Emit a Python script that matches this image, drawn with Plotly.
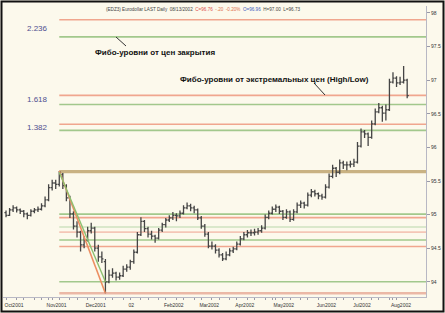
import numpy as np
import pandas as pd
import plotly.graph_objects as go

# ---------------- data ----------------
open_ = [95.03, 94.99, 95.07, 95.10, 95.07, 95.05, 95.01, 94.99, 95.05, 95.07,
         95.08, 95.13, 95.22, 95.40, 95.47, 95.45, 95.60, 95.43, 95.25, 95.01,
         94.83, 94.74, 94.55, 94.62, 94.76, 94.80, 94.50, 94.37, 94.30, 94.00,
         94.10, 94.13, 94.07, 94.09, 94.19, 94.22, 94.30, 94.44, 94.70, 94.90,
         94.79, 94.71, 94.68, 94.65, 94.77, 94.85, 94.92, 94.95, 94.99, 94.98,
         95.02, 95.10, 95.13, 95.10, 95.07, 94.95, 94.83, 94.71, 94.53, 94.53,
         94.47, 94.40, 94.34, 94.40, 94.46, 94.49, 94.56, 94.64, 94.70, 94.73,
         94.73, 94.74, 94.76, 94.80, 94.96, 95.02, 95.08, 95.11, 95.05, 94.96,
         95.04, 94.93, 95.04, 95.14, 95.17, 95.14, 95.29, 95.34, 95.31, 95.28,
         95.26, 95.41, 95.57, 95.69, 95.63, 95.77, 95.74, 95.74, 95.75, 95.78,
         96.02, 96.23, 96.20, 96.15, 96.35, 96.53, 96.59, 96.51, 96.56, 96.97,
         97.03, 96.96, 96.97, 97.00]
high = [95.06, 95.10, 95.14, 95.12, 95.09, 95.07, 95.03, 95.08, 95.10, 95.12,
        95.17, 95.27, 95.45, 95.52, 95.52, 95.65, 95.62, 95.45, 95.28, 95.05,
        94.90, 94.76, 94.68, 94.82, 94.88, 94.82, 94.55, 94.45, 94.34, 94.18,
        94.20, 94.15, 94.14, 94.24, 94.26, 94.33, 94.48, 94.74, 94.96, 94.92,
        94.82, 94.76, 94.70, 94.80, 94.88, 94.95, 94.99, 95.04, 95.02, 95.06,
        95.14, 95.18, 95.16, 95.13, 95.09, 94.98, 94.86, 94.74, 94.60, 94.56,
        94.50, 94.43, 94.45, 94.50, 94.52, 94.60, 94.68, 94.74, 94.77, 94.78,
        94.79, 94.80, 94.84, 95.00, 95.06, 95.12, 95.15, 95.13, 95.07, 95.08,
        95.06, 95.08, 95.18, 95.21, 95.19, 95.33, 95.38, 95.37, 95.33, 95.31,
        95.45, 95.61, 95.74, 95.71, 95.82, 95.80, 95.79, 95.80, 95.83, 96.08,
        96.28, 96.26, 96.22, 96.40, 96.58, 96.66, 96.62, 96.64, 97.02, 97.12,
        97.06, 97.05, 97.21, 97.02]
low = [94.96, 94.98, 95.04, 95.03, 95.01, 94.96, 94.93, 94.97, 95.02, 95.04,
       95.06, 95.11, 95.20, 95.36, 95.38, 95.42, 95.38, 95.20, 94.95, 94.78,
       94.66, 94.45, 94.50, 94.60, 94.72, 94.45, 94.30, 94.28, 93.83, 93.98,
       94.06, 94.02, 94.03, 94.07, 94.15, 94.18, 94.27, 94.42, 94.68, 94.74,
       94.66, 94.63, 94.58, 94.63, 94.74, 94.81, 94.89, 94.92, 94.90, 94.95,
       95.00, 95.08, 95.05, 95.02, 94.92, 94.79, 94.67, 94.50, 94.48, 94.42,
       94.36, 94.31, 94.32, 94.38, 94.43, 94.47, 94.54, 94.62, 94.66, 94.68,
       94.69, 94.70, 94.73, 94.78, 94.93, 95.00, 95.04, 95.01, 94.92, 94.94,
       94.89, 94.91, 95.02, 95.10, 95.09, 95.12, 95.26, 95.27, 95.23, 95.22,
       95.24, 95.39, 95.54, 95.56, 95.60, 95.68, 95.66, 95.70, 95.71, 95.76,
       96.00, 96.14, 96.02, 96.13, 96.33, 96.51, 96.38, 96.40, 96.54, 96.95,
       96.90, 96.93, 96.95, 96.73]
close = [94.99, 95.07, 95.10, 95.07, 95.05, 95.01, 94.99, 95.05, 95.07, 95.08,
         95.13, 95.22, 95.40, 95.47, 95.45, 95.63, 95.43, 95.25, 95.01, 94.83,
         94.74, 94.55, 94.62, 94.76, 94.80, 94.50, 94.37, 94.34, 94.00, 94.10,
         94.13, 94.07, 94.09, 94.19, 94.22, 94.30, 94.44, 94.70, 94.90, 94.79,
         94.71, 94.68, 94.65, 94.77, 94.85, 94.92, 94.95, 94.99, 94.98, 95.02,
         95.10, 95.13, 95.10, 95.07, 94.95, 94.83, 94.71, 94.53, 94.53, 94.47,
         94.40, 94.34, 94.40, 94.46, 94.49, 94.56, 94.64, 94.70, 94.73, 94.73,
         94.74, 94.76, 94.80, 94.96, 95.02, 95.08, 95.11, 95.05, 94.96, 95.04,
         94.93, 95.04, 95.14, 95.17, 95.14, 95.29, 95.34, 95.31, 95.28, 95.26,
         95.41, 95.57, 95.69, 95.63, 95.77, 95.74, 95.74, 95.75, 95.78, 96.02,
         96.23, 96.20, 96.15, 96.35, 96.53, 96.59, 96.51, 96.56, 96.97, 97.03,
         96.96, 96.97, 97.00, 96.77]

month_labels = ["Oct2001", "Nov2001", "Dec2001", "02", "Feb2002", "Mar2002",
                "Apr2002", "May2002", "Jun2002", "Jul2002", "Aug2002"]
fib_ratios = [0.0, 0.382, 0.5, 0.618, 1.0, 1.382, 1.618, 2.236]
labelled_ratios = [2.236, 1.618, 1.382]
y_ticks = [94, 94.5, 95, 95.5, 96, 96.5, 97, 97.5, 98]

title_parts = [("(EDZ3) Eurodollar LAST Daily  08/13/2002  ", "#444444"),
               ("C=96.76  ", "#E05050"),
               ("-.20  -0.20%  ", "#E07050"),
               ("O=96.96  ", "#4060C0"),
               ("H=97.00  L=96.73", "#444444")]
note_close = "Фибо-уровни от цен закрытия"
note_extreme = "Фибо-уровни от экстремальных цен (High/Low)"

# ---------------- derived ----------------
dates = pd.bdate_range("2001-10-01", periods=len(close), freq="2B")
xcat = list(dates.strftime("%Y-%m-%d"))
ser = pd.Series(xcat, index=dates)
month_first = list(ser.groupby([dates.year, dates.month]).first().values)
iso = dates.isocalendar()
week_first = list(ser.groupby([iso.year.values, iso.week.values]).first().values)
tick_set = sorted(set(month_first) | set(week_first))
label_of = dict(zip(month_first, month_labels))
tickvals = tick_set
ticktext = [label_of.get(v, "") for v in tick_set]

swing_window = 40
hi_arr = np.array(high[:swing_window]); lo_arr = np.array(low[:swing_window])
cl_arr = np.array(close[:swing_window])
peak_i = int(np.argmax(hi_arr)); low_i = int(np.argmin(lo_arr))
hi, lo = hi_arr.max(), lo_arr.min()
chi, clo = cl_arr.max(), cl_arr.min()
red_levels = {r: lo + r * (hi - lo) for r in fib_ratios}
green_levels = {r: clo + r * (chi - clo) for r in fib_ratios}

X_MAX = 118.3
BG = "#FCF9EC"
RED = "#F0A68E"
GREEN = "#A2C88C"

fig = go.Figure()

shapes = []
for r in fib_ratios:
    if r == 1.0:
        continue
    gcol = "#CFE2C0" if r == 0.5 else GREEN
    rcol = "#F4C6B6" if r == 0.5 else RED
    rw = 2.5 if r == 0.0 else 1.6
    shapes.append(dict(type="line", xref="x", yref="y", x0=peak_i, x1=X_MAX,
                       y0=green_levels[r], y1=green_levels[r],
                       line=dict(color=gcol, width=1.6), layer="below"))
    shapes.append(dict(type="line", xref="x", yref="y", x0=peak_i, x1=X_MAX,
                       y0=red_levels[r], y1=red_levels[r],
                       line=dict(color=rcol if r != 0.0 else "#EBB8A6", width=rw), layer="below"))
shapes.append(dict(type="line", xref="x", yref="y", x0=peak_i, x1=X_MAX,
                   y0=(red_levels[1.0] + green_levels[1.0]) / 2,
                   y1=(red_levels[1.0] + green_levels[1.0]) / 2,
                   line=dict(color="#C9B283", width=3.2), layer="below"))


def px(xp):
    return (xp - 3) / 423.0


def py(yp):
    return (297 - yp) / 291.0


shapes.append(dict(type="line", xref="paper", yref="paper", x0=px(116), y0=py(37),
                   x1=px(126), y1=py(46), line=dict(color="#333333", width=1)))
shapes.append(dict(type="line", xref="paper", yref="paper", x0=px(314), y0=py(83),
                   x1=px(325), y1=py(95), line=dict(color="#333333", width=1)))
shapes.append(dict(type="rect", xref="paper", yref="paper", x0=px(1.5), x1=px(443.5),
                   y0=py(311.5), y1=py(1.5), line=dict(color="#111111", width=2)))

fig.add_trace(go.Ohlc(x=xcat, open=open_, high=high, low=low, close=close,
                      increasing=dict(line=dict(color="#454545", width=1.3)),
                      decreasing=dict(line=dict(color="#454545", width=1.3)),
                      tickwidth=0.45, hoverinfo="skip"))

fig.add_trace(go.Scatter(x=[xcat[peak_i], xcat[low_i]], y=[hi, lo], mode="lines",
                         line=dict(color="#EC8F62", width=1.6), hoverinfo="skip"))
fig.add_trace(go.Scatter(x=[xcat[peak_i], xcat[low_i]], y=[chi, clo], mode="lines",
                         line=dict(color="#8CC070", width=1.4), hoverinfo="skip"))

annotations = []
title_html = "".join(f"<span style='color:{c}'>{t}</span>" for t, c in title_parts)
annotations.append(dict(xref="paper", yref="paper", x=px(104), y=py(10), xanchor="left",
                        yanchor="middle", text=title_html, showarrow=False,
                        font=dict(size=4.6, family="Liberation Sans, Arial")))
for r in labelled_ratios:
    annotations.append(dict(xref="paper", yref="y", x=px(50),
                            y=(red_levels[r] + green_levels[r]) / 2,
                            xanchor="right", yanchor="middle", text=f"{r:.3f}",
                            showarrow=False,
                            font=dict(size=8, color="#4F4F8F", family="Liberation Sans, Arial")))
annotations.append(dict(xref="paper", yref="paper", x=px(155), y=py(52), text=f"<b>{note_close}</b>",
                        showarrow=False, xanchor="center", yanchor="middle",
                        font=dict(size=8, color="#111111", family="Liberation Sans, Arial")))
annotations.append(dict(xref="paper", yref="paper", x=px(274), y=py(79), text=f"<b>{note_extreme}</b>",
                        showarrow=False, xanchor="center", yanchor="middle",
                        font=dict(size=8, color="#111111", family="Liberation Sans, Arial")))

fig.update_layout(
    width=445, height=313, autosize=False,
    margin=dict(l=3, r=19, t=6, b=16, pad=0),
    paper_bgcolor=BG, plot_bgcolor=BG,
    showlegend=False,
    shapes=shapes, annotations=annotations,
    font=dict(family="Liberation Sans, Arial", color="#333333"),
    xaxis=dict(type="category", categoryorder="array", categoryarray=xcat,
               range=[-0.85, X_MAX], rangeslider=dict(visible=False),
               showgrid=False, zeroline=False, showline=True, linecolor="#B8B8C4", linewidth=1,
               ticks="outside", ticklen=2, tickcolor="#9A9AA8",
               tickvals=tickvals, ticktext=ticktext, tickangle=0,
               tickfont=dict(size=5, color="#333333"), ticklabelshift=8, ticklabelstandoff=1),
    yaxis=dict(side="right", range=[93.774, 98.104], tickvals=y_ticks,
               ticktext=[f"{v:g}" for v in y_ticks],
               showgrid=False, zeroline=False, showline=True, linecolor="#B8B8C4", linewidth=1,
               ticks="outside", ticklen=3, tickcolor="#9A9AA8",
               tickfont=dict(size=5, color="#333333")),
)

fig.write_html("out.html")
